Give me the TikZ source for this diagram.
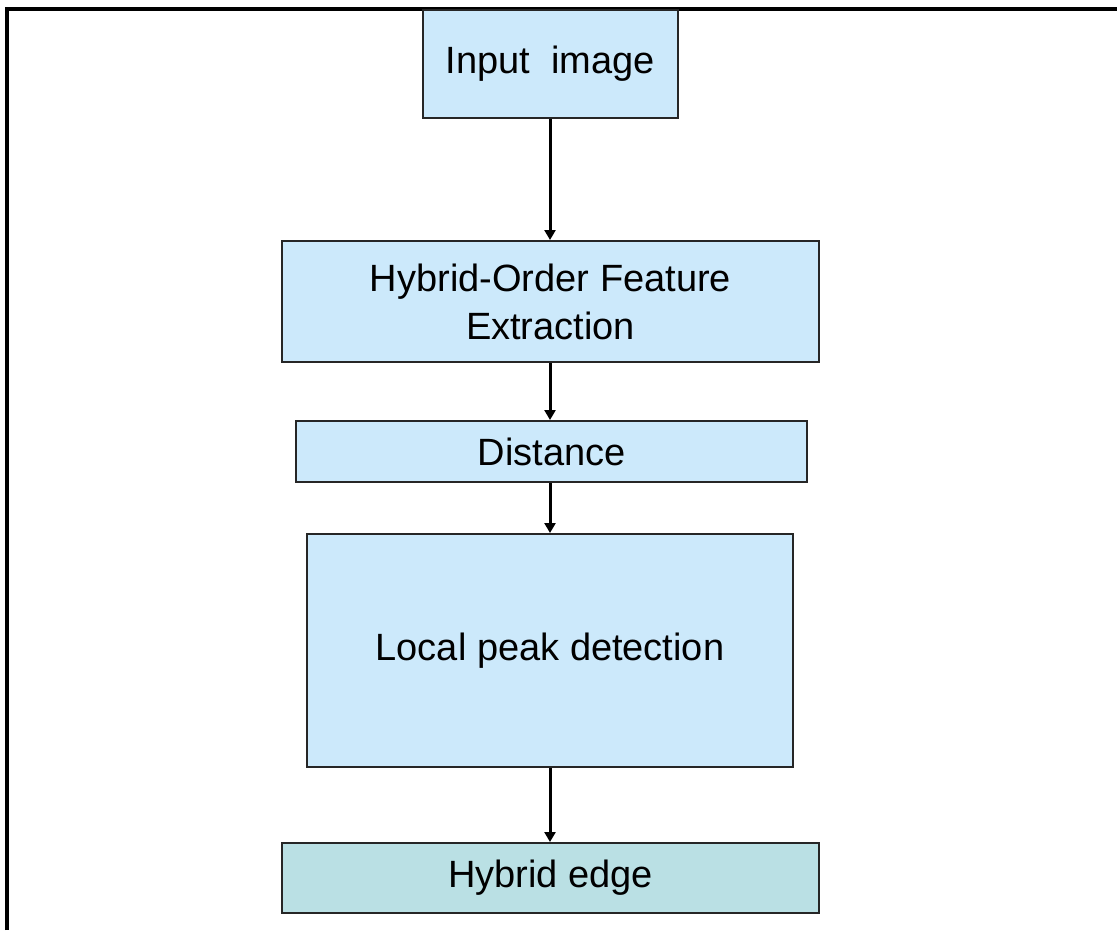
\documentclass[tikz,border=0pt]{standalone}
\usepackage{fontspec}
\setmainfont{Liberation Sans}
\usetikzlibrary{arrows.meta}
\definecolor{boxblue}{HTML}{CCE9FB}
\definecolor{boxteal}{HTML}{BAE0E4}
\begin{document}
\begin{tikzpicture}[x=1pt,y=-1pt,
  stage/.style={draw=black!85,line width=2pt,fill=boxblue,inner sep=0pt,align=center,
    font=\fontsize{38}{48}\selectfont},
  flow/.style={line width=3pt,-{Triangle[width=11pt,length=10pt]}}]
  \useasboundingbox (0,0) rectangle (1117,930);
  % frame lines along the top and left
  \coordinate (fbl) at (7,930);
  \coordinate (ftl) at (7,9);
  \coordinate (ftr) at (1117,9);
  \draw[line width=3.5pt] (fbl) -- (ftl) -- (ftr);
  % process stages
  \node[stage,minimum width=255pt,minimum height=108pt] (input) at (550.5,64) {Input\ \ image};
  \node[stage,minimum width=537pt,minimum height=121pt] (feat) at (550.5,301.5) {Hybrid-Order Feature\\Extraction};
  \node[stage,minimum width=511pt,minimum height=61pt] (dist) at (551.5,451.5) {Distance};
  \node[stage,minimum width=486pt,minimum height=233pt] (peak) at (550,650.5) {Local peak detection};
  \node[stage,fill=boxteal,minimum width=537pt,minimum height=70pt] (edge) at (550.5,878) {Hybrid edge};
  % connectors
  \draw[flow] (input.south -| 550,0) -- (feat.north -| 550,0);
  \draw[flow] (feat.south -| 550,0) -- (dist.north -| 550,0);
  \draw[flow] (dist.south -| 550,0) -- (peak.north -| 550,0);
  \draw[flow] (peak.south -| 550,0) -- (edge.north -| 550,0);
\end{tikzpicture}
\end{document}
